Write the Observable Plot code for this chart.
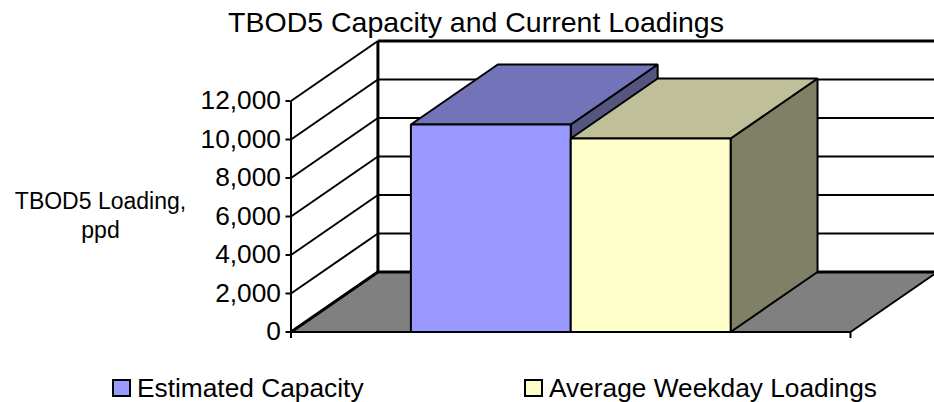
<!DOCTYPE html>
<html>
<head>
<meta charset="utf-8">
<script src="https://cdn.jsdelivr.net/npm/d3@7"></script>
<script src="https://cdn.jsdelivr.net/npm/@observablehq/plot@0.6"></script>
<style>
html,body{margin:0;padding:0;background:#fff;overflow:hidden}
body{width:934px;height:402px;font-family:"Liberation Sans",Arial,sans-serif;color:#000;position:relative}
#title{position:absolute;left:0;top:6px;width:952px;text-align:center;font-size:28.5px;line-height:32px;white-space:nowrap}
#chart{position:absolute;left:0;top:38px}
.lg{position:absolute;top:375px;font-size:26.3px;line-height:27px;white-space:nowrap}
.sw{position:absolute;width:15px;height:14px;border:2px solid #000;top:379px}
</style>
</head>
<body>
<div id="chart"></div>
<div id="title"></div>
<script>
const chartTitle = "TBOD5 Capacity and Current Loadings";
const axisTitle = "TBOD5 Loading,\nppd";
const seriesNames = ["Estimated Capacity", "Average Weekday Loadings"];
const seriesValues = [10780, 10050];
const frontColors = ["#9999ff", "#ffffcc"];
const topColors = ["#7373b9", "#bfbf99"];
const sideColors = ["#555580", "#808066"];
const yTicks = [0, 2000, 4000, 6000, 8000, 10000, 12000];
const floorColor = "#808080";
const xMax = 3.5;
const barStarts = [0.75, 1.75];
const barWidth = 1;
const depthX = 0.54375;
const depthY = 3117;

const at = (x, y, d = 0) => ({x: x + d * depthX, y: y + d * depthY});
const poly = (pts, fill, strokeWidth = 2) => Plot.line(pts, {x: "x", y: "y", fill, stroke: "#000", strokeWidth, curve: "linear-closed", strokeLinejoin: "miter"});
const seg = (pts, strokeWidth = 2) => Plot.line(pts, {x: "x", y: "y", stroke: "#000", strokeWidth, strokeLinecap: "butt"});

const marks = [];
marks.push(poly([at(0,0),at(xMax,0),at(xMax,0,1),at(0,0,1)], floorColor, 2));
for (const v of yTicks) {
  marks.push(seg([at(0,v),at(0,v,1)], v === 0 ? 3 : 2));
  marks.push(seg([at(0,v,1),at(xMax,v,1)], v === 0 || v === 12000 ? 3 : 2));
}
marks.push(seg([at(0,0,1),at(0,12000,1)], 3));
marks.push(seg([at(0,0),at(0,12000)], 2));
marks.push(seg([at(0,0),at(xMax,0)], 2));
seriesValues.forEach((v, i) => {
  const a = barStarts[i], b = a + barWidth;
  marks.push(poly([at(b,0),at(b,0,1),at(b,v,1),at(b,v)], sideColors[i]));
  marks.push(poly([at(a,v),at(b,v),at(b,v,1),at(a,v,1)], topColors[i]));
  marks.push(poly([at(a,0),at(b,0),at(b,v),at(a,v)], frontColors[i]));
});
marks.push(Plot.axisY(yTicks, {anchor: "left", tickSize: 5, tickPadding: 5, tickFormat: d3.format(","), fontSize: 26.3, label: null, strokeWidth: 2, fill: "#000"}));
marks.push(Plot.ruleX([0, xMax], {y1: 0, y2: -340, stroke: "#000", strokeWidth: 2}));
marks.push(Plot.text([axisTitle], {text: d => d, frameAnchor: "left", dx: -190.5, y: () => 6100, fontSize: 23, lineHeight: 1.26, textAnchor: "middle", fill: "#000"}));

const chart = Plot.plot({
  width: 934,
  height: 316,
  marginLeft: 290.5,
  marginRight: 84,
  marginTop: 0,
  marginBottom: 0,
  style: {background: "#fff", fontFamily: "'Liberation Sans', Arial, sans-serif", overflow: "hidden"},
  x: {domain: [0, xMax], range: [290.5, 850], axis: null},
  y: {domain: [0, 12000], range: [293.5, 62.5], axis: null},
  marks
});
document.getElementById("chart").append(chart);
document.getElementById("title").textContent = chartTitle;
const swX = [112, 524], txX = [137, 549];
seriesNames.forEach((n, i) => {
  const s = document.createElement("div"); s.className = "sw"; s.style.left = swX[i] + "px"; s.style.background = frontColors[i]; document.body.append(s);
  const t = document.createElement("div"); t.className = "lg"; t.style.left = txX[i] + "px"; t.textContent = n; document.body.append(t);
});
</script>
</body>
</html>
